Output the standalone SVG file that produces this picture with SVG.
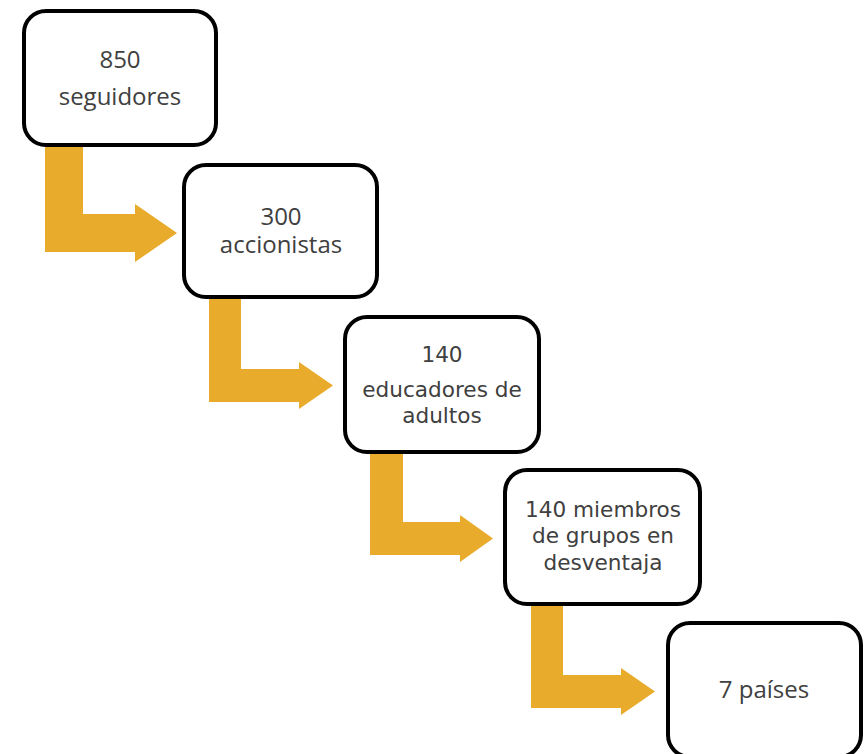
<svg xmlns="http://www.w3.org/2000/svg" width="865" height="754" viewBox="0 0 865 754">
<style>
.box{fill:#fff;stroke:#000;stroke-width:4}
.arr{fill:#E9AB2B}
.t1{font-family:"Open Sans","Liberation Sans",sans-serif;font-size:24px;fill:#404040;text-anchor:middle}
.t2{font-family:"DejaVu Sans","Liberation Sans",sans-serif;font-size:21.6px;fill:#404040;text-anchor:middle}
</style>
<rect width="865" height="754" fill="#fff"/>
<g id="connectors">
<polygon class="arr" points="45,145 83,145 83,214 135,214 135,204 177,233 135,262 135,252 45,252"/>
<polygon class="arr" points="209,296 241,296 241,369 299,369 299,362 333,385.5 299,409 299,402 209,402"/>
<polygon class="arr" points="370,450 403,450 403,522 460,522 460,515 493,538.5 460,562 460,555 370,555"/>
<polygon class="arr" points="531,603 563,603 563,675 621,675 621,668 655,691.5 621,715 621,708 531,708"/>
</g>
<g id="n1">
<rect class="box" x="24" y="11" width="192" height="134" rx="22"/>
<text class="t1" x="120" y="68">850</text>
<text class="t1" x="120" y="105">seguidores</text>
</g>
<g id="n2">
<rect class="box" x="184" y="165" width="193" height="132" rx="22"/>
<text class="t1" x="281" y="225">300</text>
<text class="t1" x="281" y="252.5">accionistas</text>
</g>
<g id="n3">
<rect class="box" x="345" y="317" width="194" height="135" rx="22"/>
<text class="t2" x="442" y="362">140</text>
<text class="t2" x="442" y="397">educadores de</text>
<text class="t2" x="442" y="423">adultos</text>
</g>
<g id="n4">
<rect class="box" x="505" y="470" width="195" height="134" rx="22"/>
<text class="t2" x="603" y="517">140 miembros</text>
<text class="t2" x="603" y="543">de grupos en</text>
<text class="t2" x="603" y="570">desventaja</text>
</g>
<g id="n5">
<rect class="box" x="668" y="623" width="193" height="134" rx="22"/>
<text class="t1" x="764" y="698">7 países</text>
</g>
</svg>
